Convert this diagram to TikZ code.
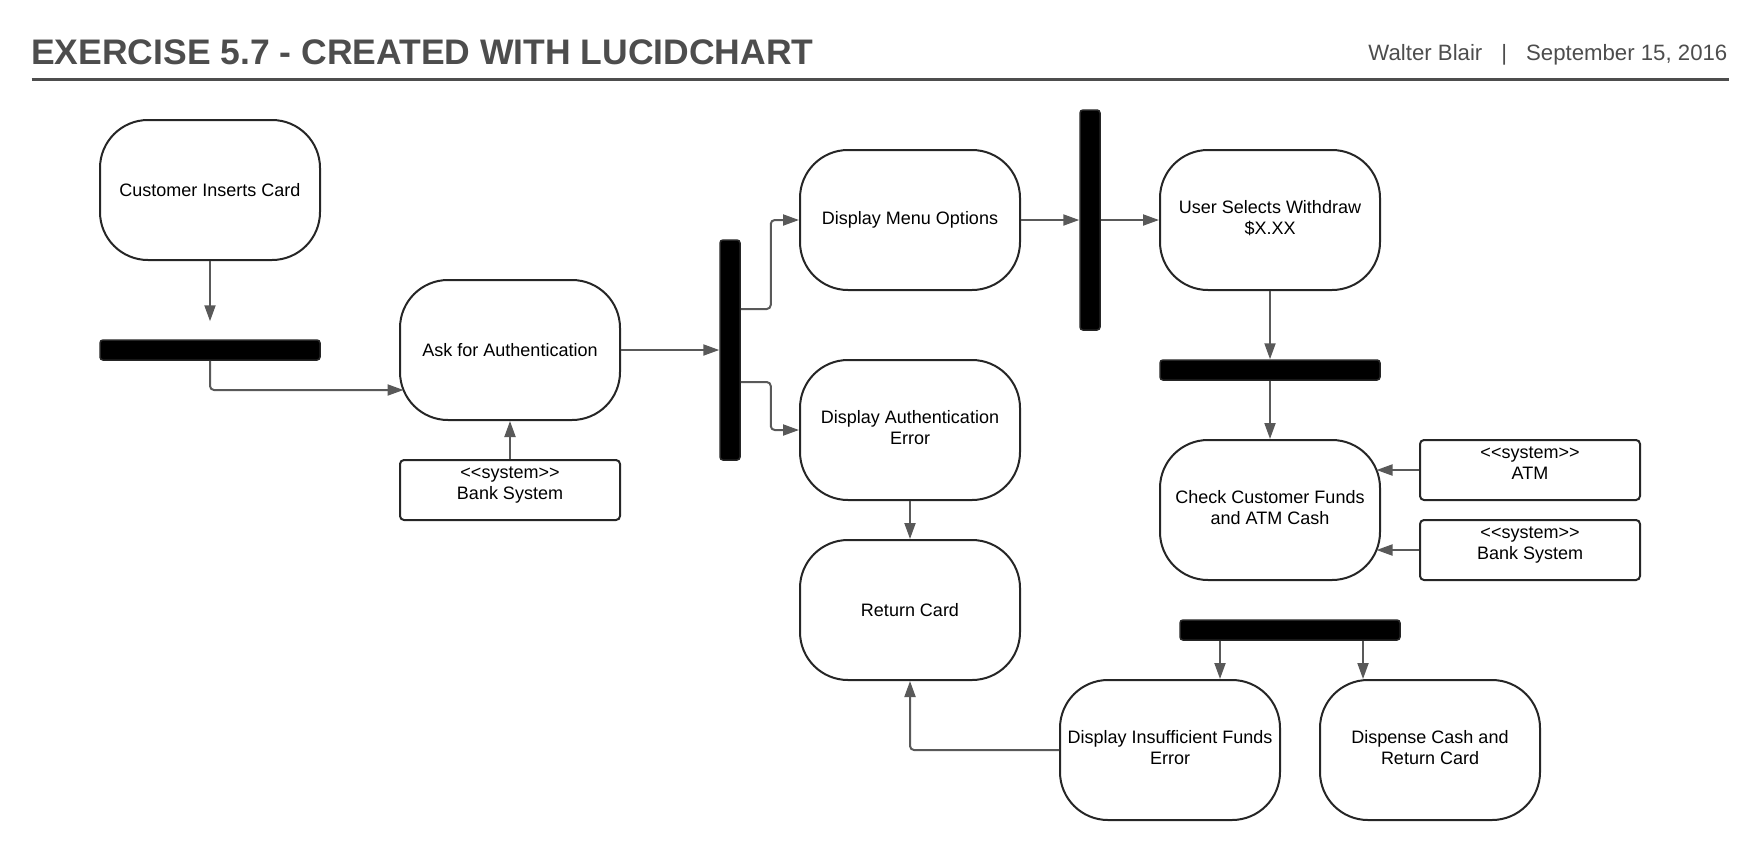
\documentclass[tikz,border=0pt]{standalone}
\usepackage{fontspec}
\setmainfont{Liberation Sans}
\usetikzlibrary{arrows.meta,calc}
\definecolor{hdr}{HTML}{4D4D4D}
\definecolor{cline}{HTML}{595959}
\definecolor{bord}{HTML}{262626}
\newcommand{\systext}[1]{\raisebox{0.5pt}[0pt][0pt]{\begin{tabular}{@{}c@{}}<\kern0pt<system>\kern0pt>\\#1\end{tabular}}}
\newcommand{\dn}{\rule[-5.7pt]{0pt}{0pt}}
\begin{document}
\begin{tikzpicture}[x=1pt,y=-1pt,
  act/.style={draw=bord, line width=2pt, rounded corners=48pt, minimum width=220pt, minimum height=140pt, align=center, inner sep=0pt, font=\fontsize{18}{21}\selectfont},
  sys/.style={draw=bord, line width=2pt, rounded corners=4pt, minimum width=220pt, minimum height=60pt, inner sep=0pt, font=\fontsize{18}{20.8}\selectfont},
  hbar/.style={draw=bord, fill=black, line width=1.5pt, rounded corners=3pt, minimum width=220pt, minimum height=20pt, inner sep=0pt},
  vbar/.style={draw=bord, fill=black, line width=1.5pt, rounded corners=3pt, minimum width=20pt, minimum height=220pt, inner sep=0pt},
  arr/.style={draw=cline, line width=2pt, rounded corners=4pt, -{Triangle[length=16pt,width=11pt]}},
  hdrtext/.style={inner sep=0pt, text=hdr}
]
\useasboundingbox (0,0) rectangle (1760,860);

% header
\node[hdrtext, anchor=base west, font=\fontsize{35.5}{40}\selectfont\bfseries] (title) at (31,64) {EXERCISE 5.7 - CREATED WITH LUCIDCHART};
\node[hdrtext, anchor=base east, font=\fontsize{22.2}{24}\selectfont] (author) at (1727.5,60) {Walter Blair\hspace{19pt}|\hspace{19pt}September 15, 2016};
\coordinate (hl) at (31.5,79.5);
\coordinate (hr) at (1728.5,79.5);
\draw[hdr, line width=2.3pt] (hl) -- (hr);

% nodes
\node[act] (cic) at (210,190) {Customer Inserts Card};
\node[hbar] (b1) at (210,350) {};
\node[act] (afa) at (510,350) {Ask for Authentication};
\node[sys] (bs1) at (510,490) {\systext{Bank System}};
\node[vbar] (b2) at (730,350) {};
\node[act] (dmo) at (910,220) {Display Menu Options};
\node[act] (dae) at (910,430) {Display Authentication\\Error\dn};
\node[act] (rc) at (910,610) {Return Card};
\node[vbar] (b3) at (1090,220) {};
\node[act] (usw) at (1270,220) {User Selects Withdraw\\\$X.XX\dn};
\node[hbar] (b4) at (1270,370) {};
\node[act] (ccf) at (1270,510) {Check Customer Funds\\and ATM Cash\dn};
\node[sys] (atm) at (1530,470) {\systext{ATM}};
\node[sys] (bs2) at (1530,550) {\systext{Bank System}};
\node[hbar] (b5) at (1290,630) {};
\node[act] (dif) at (1170,750) {Display Insufficient Funds\\Error\dn};
\node[act] (dcr) at (1430,750) {Dispense Cash and\\Return Card\dn};

% connectors
\draw[arr, shorten >=18pt] (cic.south) -- (b1.north);
\draw[arr] (b1.south) |- ($(afa.west)+(4.5,40)$);
\draw[arr] (bs1.north) -- (afa.south);
\draw[arr] (afa.east) -- (b2.west);
\draw[arr] ($(b2.east)+(0,-41)$) -- ++(30,0) |- (dmo.west);
\draw[arr] ($(b2.east)+(0,32)$) -- ++(30,0) |- (dae.west);
\draw[arr] (dmo.east) -- (b3.west);
\draw[arr] (b3.east) -- (usw.west);
\draw[arr] (usw.south) -- (b4.north);
\draw[arr] (b4.south) -- (ccf.north);
\draw[arr] (atm.west) -- ($(ccf.east)+(-4.5,-40)$);
\draw[arr] (bs2.west) -- ($(ccf.east)+(-4.5,40)$);
\draw[arr] ($(b5.south)+(-70,0)$) -- ($(dif.north)+(50,0)$);
\draw[arr] ($(b5.south)+(73,0)$) -- ($(dcr.north)+(-67,0)$);
\draw[arr] (dif.west) -| (rc.south);
\draw[arr] (dae.south) -- (rc.north);
\end{tikzpicture}
\end{document}
